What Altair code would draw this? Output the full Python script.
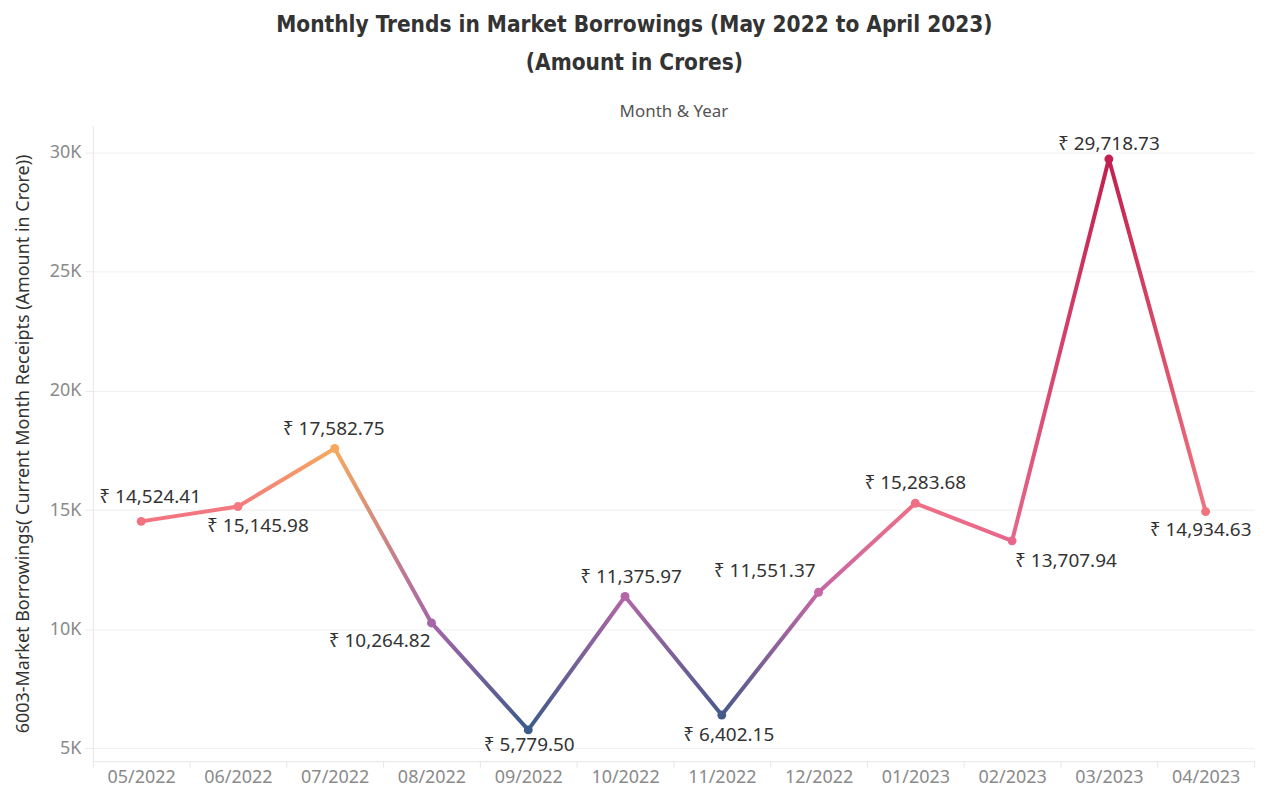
import altair as alt
import pandas as pd

# ---- data ----
MONTHS = ["05/2022", "06/2022", "07/2022", "08/2022", "09/2022", "10/2022",
          "11/2022", "12/2022", "01/2023", "02/2023", "03/2023", "04/2023"]
VALUES = [14524.41, 15145.98, 17582.75, 10264.82, 5779.50, 11375.97,
          6402.15, 11551.37, 15283.68, 13707.94, 29718.73, 14934.63]
Y_TICKS = [5000, 10000, 15000, 20000, 25000, 30000]

# ---- styling (not data) ----
POINT_COLORS = ["#f1737f", "#f27a80", "#f6a95c", "#a665a8", "#3b5b8a", "#b266a6",
                "#475a8c", "#c568a5", "#ef6f84", "#e8668a", "#c2204f", "#f07480"]
LABEL_DX = [9, 20, -1, -52, 1, 6, 7, -54, 0, 54, 0, -5]
LABEL_DY = [-24, 20, -19, 18, 15, -19, 20, -21, -20, 20, -15, 18]

df = pd.DataFrame({"month": MONTHS, "value": VALUES, "idx": list(range(len(MONTHS)))})
df["label"] = df["value"].map(lambda v: "₹ " + f"{v:,.2f}")

FONT = "Noto Sans"

x_scale = alt.Scale(type="band", paddingInner=0, paddingOuter=0)
y_scale = alt.Scale(domain=[4470, 31120], nice=False, zero=False)

y_axis = alt.Axis(
    values=Y_TICKS,
    labelExpr="datum.value / 1000 + 'K'",
    grid=True, gridColor="#efefef", gridWidth=1,
    tickColor="#eaeaea", tickSize=8,
    domainColor="#e6e6e6",
    labelColor="#8a8a8a", labelFontSize=18, labelFont=FONT, labelPadding=4,
    title="6003-Market Borrowings( Current Month Receipts (Amount in Crore))",
    titleFont=FONT, titleFontSize=18, titleFontWeight="normal", titleColor="#333333",
    titlePadding=17,
)

x_axis_bottom = alt.Axis(
    orient="bottom", title=None, labelAngle=0,
    tickBand="extent", tickColor="#e6e6e6", tickSize=6,
    domainColor="#e6e6e6", grid=False,
    labelColor="#8a8a8a", labelFontSize=18, labelFont=FONT, labelPadding=1,
)
x_axis_top = alt.Axis(
    orient="top", labels=False, ticks=False, domain=False, grid=False,
    title="Month & Year", titleFont=FONT, titleFontSize=17, titleFontWeight="normal",
    titleColor="#555555", titlePadding=5,
)


def X(axis):
    return alt.X("month:N", sort=MONTHS, scale=x_scale, bandPosition=0.5, axis=axis)


def Y():
    return alt.Y("value:Q", scale=y_scale, axis=y_axis)


base = alt.Chart(df)

layers = []
# invisible layer carrying the bottom axis
layers.append(base.mark_point(opacity=0).encode(x=X(x_axis_bottom), y=Y()))
# invisible layer carrying the top header
layers.append(base.mark_point(opacity=0).encode(x=X(x_axis_top), y=Y()))

# gradient line segments
for i in range(len(MONTHS) - 1):
    grad = alt.Gradient(
        gradient="linear",
        stops=[alt.GradientStop(color=POINT_COLORS[i], offset=0),
               alt.GradientStop(color=POINT_COLORS[i + 1], offset=1)],
        x1=0, x2=1, y1=0, y2=0,
    )
    layers.append(
        base.transform_filter(f"datum.idx == {i} || datum.idx == {i + 1}")
        .mark_line(stroke=grad, strokeWidth=4, strokeCap="round")
        .encode(x=X(None), y=Y())
    )

# points
layers.append(
    base.mark_circle(size=80, opacity=1).encode(
        x=X(None), y=Y(),
        color=alt.Color("month:N", sort=MONTHS,
                        scale=alt.Scale(domain=MONTHS, range=POINT_COLORS), legend=None),
    )
)

# labels
for i in range(len(MONTHS)):
    layers.append(
        base.transform_filter(f"datum.idx == {i}")
        .mark_text(font=FONT, fontSize=19, color="#333333", align="center",
                   baseline="middle", dx=LABEL_DX[i], dy=LABEL_DY[i])
        .encode(x=X(None), y=Y(), text="label:N")
    )

chart = (
    alt.layer(*layers)
    .resolve_axis(x="independent")
    .properties(
        width=1164, height=637,
        title=alt.TitleParams(
            text=["Monthly Trends in Market Borrowings (May 2022  to April 2023)",
                  "(Amount in Crores)"],
            font="DejaVu Sans Condensed, Roboto Condensed, Roboto", fontSize=22.5,
            fontWeight="bold", color="#333333", anchor="middle", frame="bounds",
            lineHeight=38, offset=28,
        ),
        padding={"left": 6, "top": 5, "right": 5, "bottom": 2},
        background="white",
    )
    .configure_view(stroke=None)
)

chart.save("out.html", embed_options={"renderer": "svg", "actions": False})
